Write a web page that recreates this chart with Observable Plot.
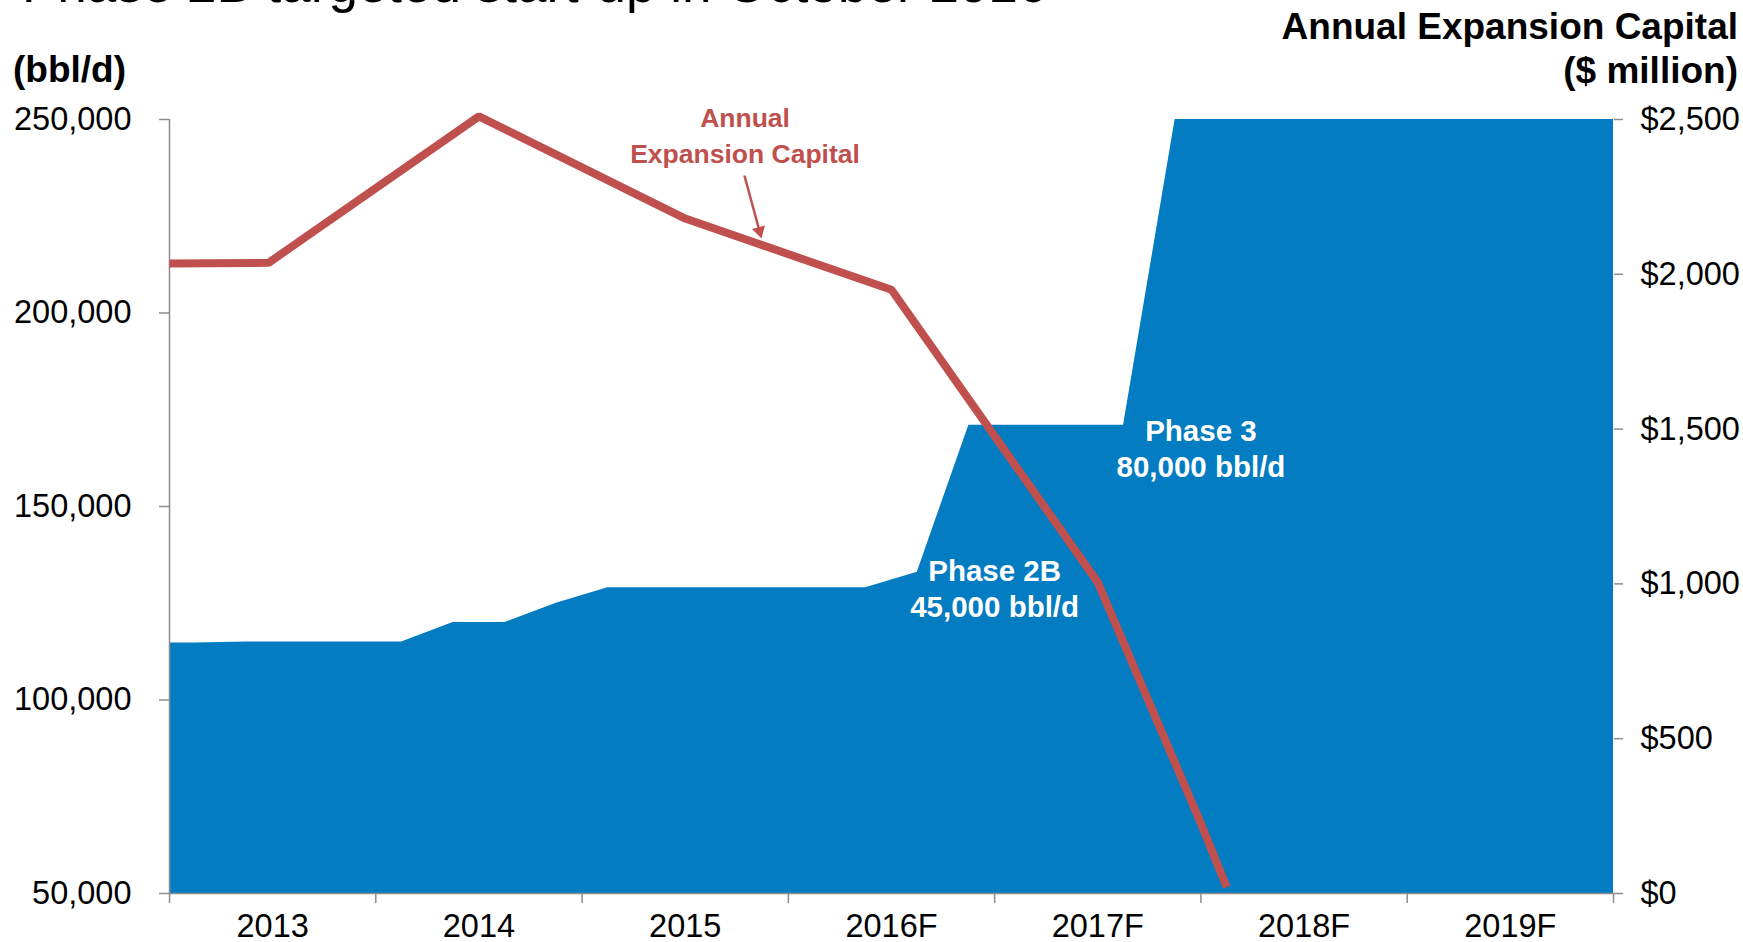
<!DOCTYPE html>
<html>
<head>
<meta charset="utf-8">
<script src="https://cdn.jsdelivr.net/npm/d3@7"></script>
<script src="https://cdn.jsdelivr.net/npm/@observablehq/plot@0.6"></script>
<style>
  html, body { margin: 0; padding: 0; background: #fff; }
  #wrap { position: relative; width: 1743px; height: 942px; overflow: hidden; background: #fff;
          font-family: "Liberation Sans", Arial, Helvetica, sans-serif; color: #000; }
  #wrap svg { position: absolute; left: 0; top: 0; }
  .hdr { position: absolute; font-weight: bold; font-size: 37px; line-height: 44px; white-space: nowrap; }
  #title { position: absolute; left: 22px; top: -43px; font-size: 53px; line-height: 53px; white-space: nowrap; }
</style>
</head>
<body>
<div id="wrap">
  <div id="title">Phase 2B targeted start-up in October 2016</div>
  <div class="hdr" style="left:13px; top:48px;">(bbl/d)</div>
  <div class="hdr" style="right:5px; top:5px; text-align:right;">Annual Expansion Capital<br>($ million)</div>
</div>
<script>
// ---------- data ----------
const yearLabels = ["2013", "2014", "2015", "2016F", "2017F", "2018F", "2019F"];
const firstYear = 2013;

// quarterly capacity (bbl/d), Q1..Q4 per year
const capacity2013 = [114700, 115000, 115000, 115000];
const capacity2014 = [115000, 120000, 120000, 125000];
const capacity2015 = [129000, 129000, 129000, 129000];
const capacity2016 = [129000, 129000, 133000, 171000];
const capacity2017 = [171000, 171000, 171000, 250000];
const capacity2018 = [250000, 250000, 250000, 250000];
const capacity2019 = [250000, 250000, 250000, 250000];

// annual expansion capital ($ million), at fractional-year times
const capitalTime = [2013.0, 2013.48, 2014.5, 2015.5, 2016.5, 2017.5, 2018.0, 2018.125];
const capitalMillions = [2035, 2037, 2510, 2180, 1950, 1005, 226, 20];

const bblTicks = [50000, 100000, 150000, 200000, 250000];
const capitalTicks = [0, 500, 1000, 1500, 2000, 2500];

// annotations (data units: time, $ million / bbl/d)
const capLabel = {t: 2015.79, cap: 2456, text: "Annual\nExpansion Capital"};
const capArrow = {t1: 2015.787, cap1: 2319, t2: 2015.860, cap2: 2140};
const phaseLabels = [
  {t: 2017.0, bbl: 129100, text: "Phase 2B\n45,000 bbl/d"},
  {t: 2018.0, bbl: 165200, text: "Phase 3\n80,000 bbl/d"}
];

// ---------- build ----------
const blue = "#037CC2";
const red = "#C0504D";
const gray = "#8C8C8C";
const fontFamily = '"Liberation Sans", Arial, Helvetica, sans-serif';

const yMin = 50000, yMax = 250000, capMax = 2500;
const toLeft = c => yMin + c * (yMax - yMin) / capMax;
const fromLeft = y => (y - yMin) * capMax / (yMax - yMin);

const quarterly = [capacity2013, capacity2014, capacity2015, capacity2016, capacity2017, capacity2018, capacity2019];
const areaData = [];
quarterly.forEach((qs, i) => qs.forEach((v, q) => areaData.push({t: firstYear + i + (q + 0.5) / 4, v})));
const lastYear = firstYear + yearLabels.length;
areaData.unshift({t: firstYear, v: areaData[0].v});
areaData.push({t: lastYear, v: areaData[areaData.length - 1].v});

const lineData = capitalTime.map((t, i) => ({t, y: toLeft(capitalMillions[i])}));
const yearCenters = yearLabels.map((_, i) => firstYear + i + 0.5);

const chart = Plot.plot({
  width: 1743,
  height: 942,
  marginLeft: 169,
  marginRight: 130,
  marginTop: 119,
  marginBottom: 49,
  style: {fontFamily, fontSize: "32.5px", color: "#000", background: "transparent", overflow: "visible"},
  x: {domain: [firstYear, lastYear]},
  y: {domain: [yMin, yMax]},
  marks: [
    Plot.areaY(areaData, {x: "t", y1: yMin, y2: "v", fill: blue}),
    Plot.ruleX([firstYear], {stroke: gray, strokeWidth: 1.5}),
    Plot.ruleY([yMin], {stroke: gray, strokeWidth: 1.5}),
    Plot.axisY({ticks: bblTicks, tickFormat: d3.format(","), tickSize: 10, tickPadding: 28,
                stroke: gray, strokeWidth: 1.5, fontSize: 32.5, label: null}),
    Plot.axisY({anchor: "right", ticks: capitalTicks.map(toLeft),
                tickFormat: d => "$" + d3.format(",")(Math.round(fromLeft(d))),
                tickSize: 9, tickPadding: 18, stroke: gray, strokeWidth: 1.5, fontSize: 32.5, label: null}),
    Plot.axisX({ticks: d3.range(firstYear, lastYear + 1), tickFormat: () => "", tickSize: 10,
                stroke: gray, strokeWidth: 1.5, label: null}),
    Plot.axisX({ticks: yearCenters, tickFormat: d => yearLabels[Math.round(d - 0.5 - firstYear)],
                tickSize: 0, tickPadding: 20, fontSize: 32.5, label: null}),
    Plot.line(lineData, {x: "t", y: "y", stroke: red, strokeWidth: 8,
                         strokeLinejoin: "miter", strokeLinecap: "butt"}),
    Plot.text(phaseLabels, {x: "t", y: "bbl", text: "text", fill: "white", fontWeight: "bold",
                            fontSize: 29.5, lineHeight: 1.22}),
    Plot.text([capLabel], {x: "t", y: d => toLeft(d.cap), text: "text", fill: red, fontWeight: "bold",
                           fontSize: 26.5, lineHeight: 1.36}),
    Plot.link([capArrow], {x1: "t1", y1: d => toLeft(d.cap1), x2: "t2", y2: d => toLeft(d.cap2),
                           stroke: red, strokeWidth: 2.5}),
    Plot.dot([capArrow], {x: "t2", y: d => toLeft(d.cap2), symbol: "triangle", r: 5, rotate: 165,
                          fill: red, stroke: "none"})
  ]
});
document.getElementById("wrap").prepend(chart);
</script>
</body>
</html>
